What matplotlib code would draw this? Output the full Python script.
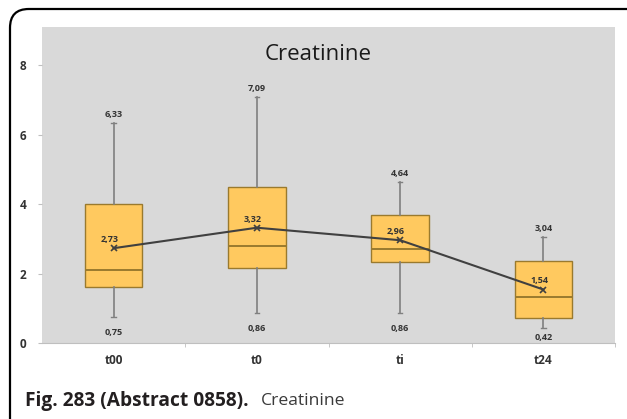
# Creatinine box plot with mean line
import matplotlib.pyplot as plt
from matplotlib.patches import FancyBboxPatch

categories = ['t00', 't0', 'ti', 't24']
whisker_low = [0.75, 0.86, 0.86, 0.42]
q1 = [1.62, 2.15, 2.34, 0.72]
median = [2.10, 2.80, 2.70, 1.33]
q3 = [4.00, 4.50, 3.68, 2.35]
whisker_high = [6.33, 7.09, 4.64, 3.04]
means = [2.73, 3.32, 2.96, 1.54]


def fmt(v):
    return f'{v:.2f}'.replace('.', ',')


plt.rcParams['font.family'] = ['Open Sans', 'DejaVu Sans']

fig = plt.figure(figsize=(6.27, 4.19), dpi=100)
ax = fig.add_axes([42 / 627, 1 - 343 / 419, 573 / 627, 316 / 419])
ax.set_facecolor('#d9d9d9')

stats = []
for i in range(len(categories)):
    stats.append({'whislo': whisker_low[i], 'q1': q1[i], 'med': median[i],
                  'q3': q3[i], 'whishi': whisker_high[i], 'fliers': []})

pos = list(range(len(categories)))
ax.bxp(stats, positions=pos, widths=0.4, patch_artist=True, showfliers=False,
       boxprops=dict(facecolor='#ffc95f', edgecolor='#9a7a2e', linewidth=1.0),
       medianprops=dict(color='#9a7a2e', linewidth=1.4),
       whiskerprops=dict(color='#808080', linewidth=1.2),
       capprops=dict(color='#808080', linewidth=1.0), capwidths=0.03)

ax.plot(pos, means, color='#404040', linewidth=1.5, marker='x',
        markersize=5, markeredgewidth=1.2, zorder=5)

lab = dict(fontsize=6.5, fontweight='bold', color='#333333', ha='center')
for i in pos:
    ax.text(i, whisker_high[i] + 0.12, fmt(whisker_high[i]), va='bottom', **lab)
    ax.text(i, max(whisker_low[i] - 0.45, 0.15), fmt(whisker_low[i]), va='center', **lab)
    ax.text(i - 0.03, means[i] + 0.12, fmt(means[i]), va='bottom', **lab)

ax.set_xlim(-0.5, 3.5)
ax.set_ylim(0, 9.1)
ax.set_yticks([0, 2, 4, 6, 8])
ax.set_xticks(pos)
ax.set_xticklabels(categories)
ax.set_xticks([0.5, 1.5, 2.5, 3.5], minor=True)
ax.tick_params(axis='x', which='major', length=0, pad=8, labelsize=8.5)
ax.tick_params(axis='x', which='minor', length=3, color='#bfbfbf')
ax.tick_params(axis='y', length=3, color='#bfbfbf', pad=8, labelsize=8.5)
for t in ax.get_xticklabels() + ax.get_yticklabels():
    t.set_fontweight('bold')
    t.set_color('#333333')
for s in ['top', 'right', 'left']:
    ax.spines[s].set_visible(False)
ax.spines['bottom'].set_color('#bfbfbf')

fig.text(318 / 627, 1 - 55 / 419, 'Creatinine', fontsize=16, ha='center',
         va='center', color='#1a1a1a')

# caption
fig.text(25 / 627, 1 - 401 / 419, 'Fig. 283 (Abstract 0858).', fontsize=13.8,
         fontweight='bold', color='#231f20', va='center', ha='left')
fig.text(261 / 627, 1 - 401 / 419, 'Creatinine', fontsize=12.6,
         color='#3a3a3a', va='center', ha='left')

frame = FancyBboxPatch((10 / 627, -0.05), 1.2, 1 - 9 / 419 + 0.05,
                       boxstyle='round,pad=0,rounding_size=0.03',
                       transform=fig.transFigure, fill=False,
                       edgecolor='black', linewidth=1.6, mutation_aspect=627 / 419)
fig.add_artist(frame)

fig.savefig('out.png', dpi=100)
